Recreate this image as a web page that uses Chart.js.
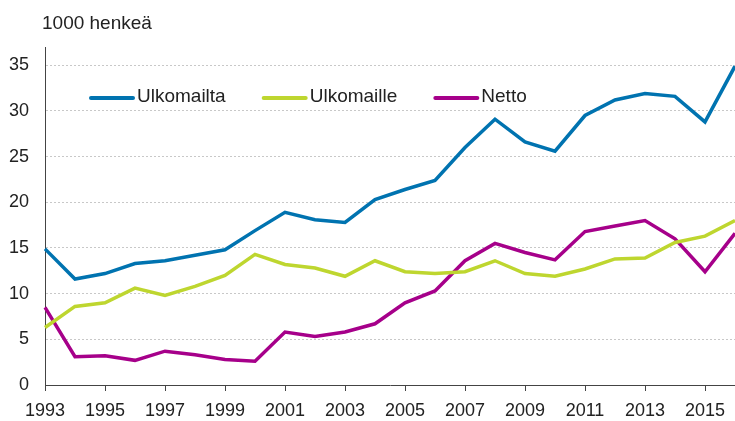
<!DOCTYPE html>
<html>
<head>
<meta charset="utf-8">
<script src="https://cdn.jsdelivr.net/npm/chart.js@4"></script>
<style>
  body { margin: 0; background: #fff; }
  #wrap { width: 735px; height: 421px; position: relative; }
</style>
</head>
<body>
<div id="wrap"><canvas id="muuttoChart"></canvas></div>
<script>
// Vuodet ja sarjat (1000 henkeä)
const vuodet = ['1993', '1994', '1995', '1996', '1997', '1998', '1999', '2000', '2001', '2002', '2003', '2004',
                '2005', '2006', '2007', '2008', '2009', '2010', '2011', '2012', '2013', '2014', '2015', '2016'];
const ulkomailta = [14.9, 11.6, 12.2, 13.3, 13.6, 14.2, 14.8, 16.9, 18.9, 18.1, 17.8, 20.3,
                    21.4, 22.4, 26.0, 29.1, 26.6, 25.6, 29.5, 31.2, 31.9, 31.6, 28.8, 34.9];
const ulkomaille = [6.3, 8.6, 9.0, 10.6, 9.8, 10.8, 12.0, 14.3, 13.2, 12.8, 11.9, 13.6,
                    12.4, 12.2, 12.4, 13.6, 12.2, 11.9, 12.7, 13.8, 13.9, 15.6, 16.3, 18.0];
const netto = [8.5, 3.1, 3.2, 2.7, 3.7, 3.3, 2.8, 2.6, 5.8, 5.3, 5.8, 6.7,
               9.0, 10.3, 13.6, 15.5, 14.5, 13.7, 16.8, 17.4, 18.0, 16.0, 12.4, 16.6];
const yTicks = [0, 5, 10, 15, 20, 25, 30, 35];

const fontFamily = '"Liberation Sans", Arial, sans-serif';
const axisColor = '#444';

// Selite kuva-alueen sisällä + yksikköteksti
const insideLegend = {
    id: 'insideLegend',
    afterDraw(chart) {
        const { ctx, chartArea } = chart;
        ctx.save();
        ctx.font = '19px ' + fontFamily;
        ctx.textBaseline = 'middle';
        ctx.fillStyle = '#222';
        ctx.fillText('1000 henkeä', 42, 24);
        let x = chartArea.left + 46;
        const y = chartArea.top + 50;
        chart.data.datasets.forEach(ds => {
            ctx.strokeStyle = ds.borderColor;
            ctx.lineWidth = 4;
            ctx.lineCap = 'round';
            ctx.beginPath();
            ctx.moveTo(x, y + 1);
            ctx.lineTo(x + 42, y + 1);
            ctx.stroke();
            ctx.fillText(ds.label, x + 46, y);
            x += 46 + ctx.measureText(ds.label).width + 38;
        });
        ctx.restore();
    }
};

const muuttoChart = new Chart(document.getElementById('muuttoChart').getContext('2d'), {
    type: 'line',
    data: {
        labels: vuodet,
        datasets: [
            { label: 'Ulkomailta', data: ulkomailta, borderColor: '#0073b0' },
            { label: 'Ulkomaille', data: ulkomaille, borderColor: '#bed62f' },
            { label: 'Netto', data: netto, borderColor: '#a6008a' }
        ]
    },
    options: {
        responsive: true,
        maintainAspectRatio: false,
        animation: false,
        layout: { padding: { top: 47, left: 0, right: 0, bottom: 0 } },
        elements: {
            line: { borderWidth: 3.5, tension: 0, fill: false },
            point: { radius: 0 }
        },
        plugins: {
            legend: { display: false },
            tooltip: { enabled: false }
        },
        scales: {
            x: {
                offset: false,
                grid: { drawOnChartArea: false, drawTicks: true, tickLength: 6, color: axisColor },
                border: { color: axisColor, width: 1 },
                ticks: { autoSkip: false, maxRotation: 0, padding: 9, color: '#222', font: { size: 18, family: fontFamily } },
                afterBuildTicks: axis => { axis.ticks = axis.ticks.filter(t => t.value % 2 === 0); },
                afterFit: axis => { axis.height = 36; }
            },
            y: {
                min: 0,
                max: 37,
                ticks: { stepSize: 5, padding: 16, color: '#222', font: { size: 18, family: fontFamily } },
                grid: {
                    drawTicks: false,
                    color: ctx => ctx.tick && ctx.tick.value === 0 ? 'rgba(0,0,0,0)' : '#c8c8c8'
                },
                border: { color: axisColor, width: 1, dash: [2, 2] },
                afterBuildTicks: axis => { axis.ticks = yTicks.map(v => ({ value: v })); },
                afterFit: axis => { axis.width = 45; }
            }
        }
    },
    plugins: [insideLegend]
});
</script>
</body>
</html>
